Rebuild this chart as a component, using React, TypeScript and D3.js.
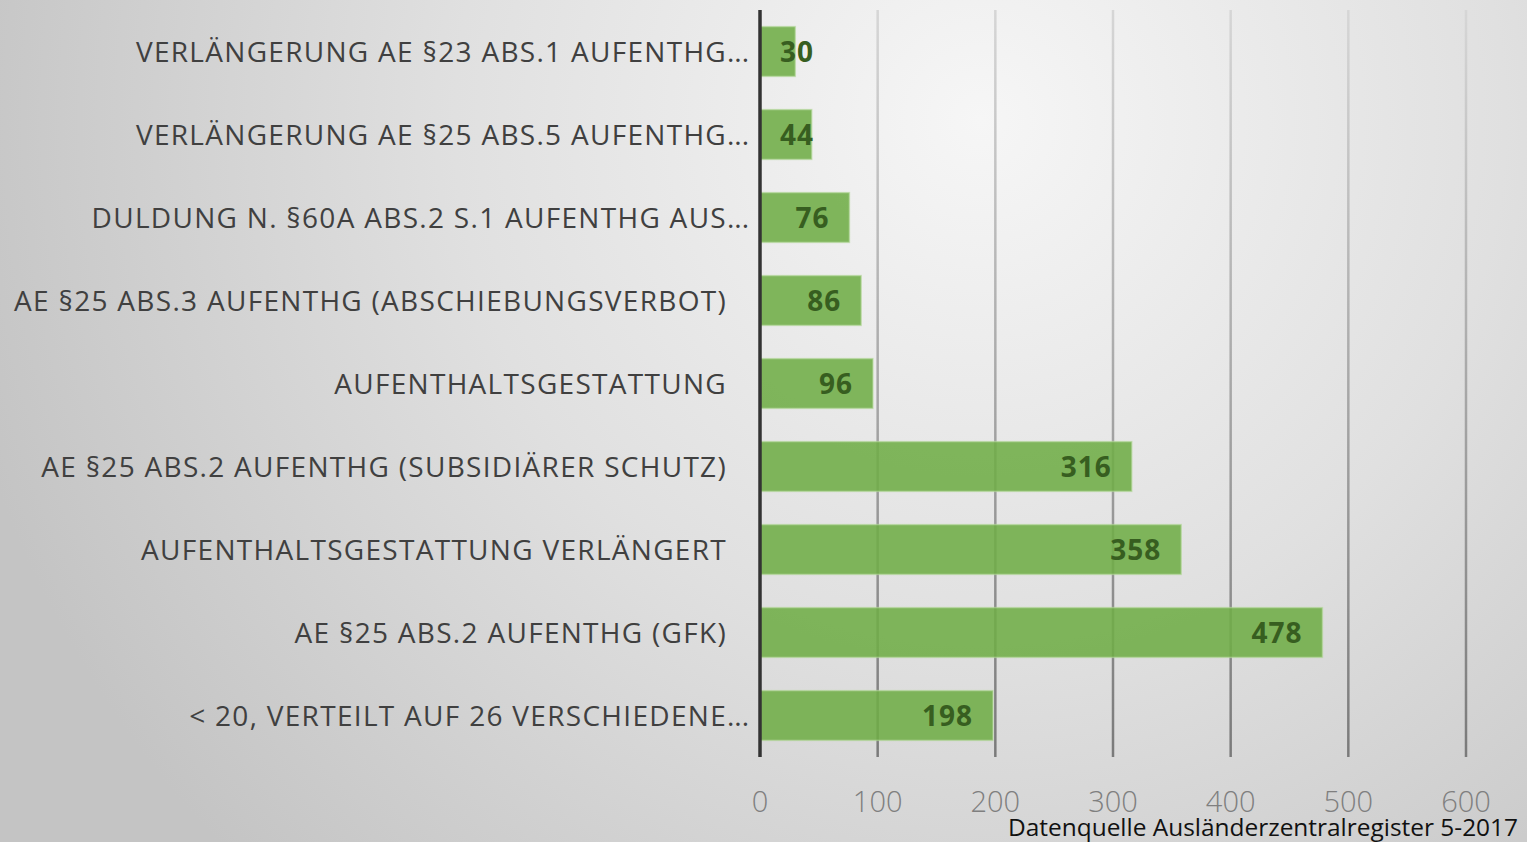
import React from "react";
import * as d3 from "d3";

const categories = [
  "VERLÄNGERUNG AE §23 ABS.1 AUFENTHG",
  "VERLÄNGERUNG AE §25 ABS.5 AUFENTHG",
  "DULDUNG N. §60A ABS.2 S.1 AUFENTHG AUS",
  "AE §25 ABS.3 AUFENTHG (ABSCHIEBUNGSVERBOT)",
  "AUFENTHALTSGESTATTUNG",
  "AE §25 ABS.2 AUFENTHG (SUBSIDIÄRER SCHUTZ)",
  "AUFENTHALTSGESTATTUNG VERLÄNGERT",
  "AE §25 ABS.2 AUFENTHG (GFK)",
  "< 20, VERTEILT AUF 26 VERSCHIEDENE",
];
const truncated = [true, true, true, false, false, false, false, false, true];
const values = [30, 44, 76, 86, 96, 316, 358, 478, 198];
const ticks = [0, 100, 200, 300, 400, 500, 600];
const source = "Datenquelle Ausländerzentralregister 5-2017";

const W = 1527;
const H = 842;

export default function App() {
  const x = d3.scaleLinear().domain([0, 600]).range([760, 1466]);
  const y = d3
    .scaleBand<string>()
    .domain(categories)
    .range([10, 757])
    .paddingInner(0.4)
    .paddingOuter(0.2);
  const font = "'Open Sans', 'DejaVu Sans', sans-serif";
  const digitW = 19;
  return (
    <svg
      width={W}
      height={H}
      style={{ position: "absolute", left: 0, top: 0 }}
    >
      <defs>
        <radialGradient
          id="bg"
          gradientUnits="userSpaceOnUse"
          cx={980}
          cy={120}
          r={1050}
        >
          <stop offset="0" stopColor="#f6f6f6" />
          <stop offset="0.5" stopColor="#e0e0e0" />
          <stop offset="1" stopColor="#c4c4c4" />
        </radialGradient>
        <linearGradient
          id="grid"
          gradientUnits="userSpaceOnUse"
          x1={0}
          y1={10}
          x2={0}
          y2={757}
        >
          <stop offset="0" stopColor="#d6d6d6" />
          <stop offset="0.5" stopColor="#a8a8a8" />
          <stop offset="1" stopColor="#7a7a7a" />
        </linearGradient>
      </defs>
      <rect x={0} y={0} width={W} height={H} fill="url(#bg)" />
      {ticks.slice(1).map((t) => (
        <line
          key={t}
          x1={x(t)}
          x2={x(t)}
          y1={10}
          y2={757}
          stroke="url(#grid)"
          strokeWidth={2.5}
        />
      ))}
      {categories.map((c, i) => {
        const y0 = y(c)!;
        const bw = y.bandwidth();
        const end = x(values[i]);
        const label = String(values[i]);
        const tw = label.length * digitW;
        let lx = end - 20;
        let anchor: "end" | "start" = "end";
        if (lx - tw < x(0) + 20) {
          lx = x(0) + 20;
          anchor = "start";
        }
        return (
          <g key={c}>
            <rect
              x={x(0)}
              y={y0}
              width={end - x(0)}
              height={bw}
              fill="#70AD47"
              fillOpacity={0.88}
              stroke="#b5d99c"
              strokeOpacity={0.6}
              strokeWidth={1.5}
            />
            <text
              x={lx}
              y={y0 + bw / 2}
              dy="0.36em"
              textAnchor={anchor}
              fontFamily={font}
              fontWeight={700}
              fontSize={28}
              letterSpacing={1}
              fill="#375e20"
            >
              {label}
            </text>
            <text
              x={727}
              y={y0 + bw / 2}
              dy="0.36em"
              textAnchor="end"
              fontFamily={font}
              fontSize={28}
              letterSpacing={1.3}
              fill="#404040"
            >
              {c}
            </text>
            {truncated[i] && (
              <text
                x={727}
                y={y0 + bw / 2}
                dy="0.36em"
                fontFamily={font}
                fontSize={28}
                fill="#404040"
              >
                ...
              </text>
            )}
          </g>
        );
      })}
      <line
        x1={x(0)}
        x2={x(0)}
        y1={10}
        y2={757}
        stroke="#333"
        strokeWidth={3.5}
      />
      {ticks.map((t) => (
        <text
          key={t}
          x={x(t)}
          y={802}
          dy="0.36em"
          textAnchor="middle"
          fontFamily={font}
          fontWeight={300}
          fontSize={29}
          fill="#7f7f7f"
        >
          {t}
        </text>
      ))}
      <text
        x={1008}
        y={836}
        fontFamily={font}
        fontSize={23}
        fill="#111"
        textLength={510}
        lengthAdjust="spacingAndGlyphs"
      >
        {source}
      </text>
    </svg>
  );
}
